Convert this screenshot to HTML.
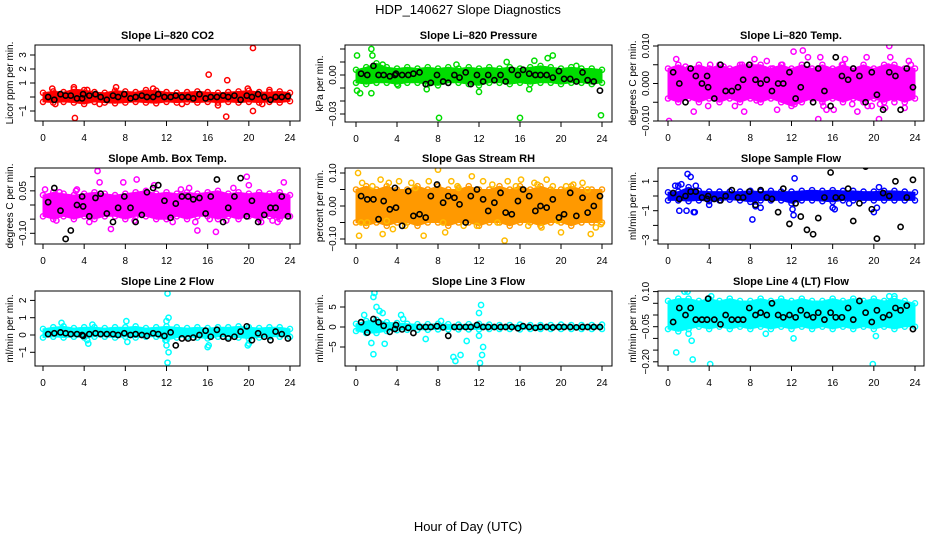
<!DOCTYPE html>
<html><head><meta charset="utf-8"><style>
html,body{margin:0;padding:0;background:#fff;width:936px;height:540px;overflow:hidden}
svg{display:block;font-family:"Liberation Sans",Arial,sans-serif}
</style></head><body>
<svg id="chart" width="936" height="540" viewBox="0 0 936 540">
<text x="468" y="14" text-anchor="middle" font-size="13">HDP_140627  Slope Diagnostics</text>
<text x="468" y="531" text-anchor="middle" font-size="13">Hour of Day (UTC)</text>
<g id="panels"></g>
</svg>
<script>
// ---- shared data ----
const bandHours = [0,1,2,3,4,5,6,7,8,9,10,11,12,13,14,15,16,17,18,19,20,21,22,23,24];
const blackX = [0.5,1.1,1.7,2.2,2.7,3.3,3.8,3.9,4.5,5.1,5.6,6.2,6.8,7.3,7.9,8.5,9.0,9.6,10.1,10.7,11.2,11.8,12.4,12.9,13.5,14.1,14.6,15.2,15.8,16.3,16.9,17.5,18.0,18.6,19.2,19.8,20.3,20.9,21.5,22.1,22.6,23.2,23.8];
const xTicks = [0,4,8,12,16,20,24];

// CO2
const co2Lo = [-0.35,-0.4,-0.35,-0.4,-0.5,-0.35,-0.4,-0.45,-0.4,-0.35,-0.4,-0.45,-0.35,-0.4,-0.35,-0.4,-0.35,-0.4,-0.35,-0.4,-0.35,-0.4,-0.35,-0.4,-0.3];
const co2Hi = [0.3,0.4,0.35,0.55,0.5,0.35,0.3,0.45,0.4,0.35,0.5,0.45,0.35,0.3,0.35,0.4,0.35,0.3,0.35,0.4,0.45,0.35,0.35,0.4,0.3];
const co2OutX = [0.9,3.1,3.0,4.3,7.1,10.7,16.1,17.9,17.8,17.0,20.4,20.4,19.9,22.0,1.2,5.5,13.5,21.3];
const co2OutY = [0.6,-1.5,0.7,0.5,0.7,0.6,1.6,1.2,-1.4,-0.6,3.5,-1.0,0.6,0.5,-0.5,-0.5,-0.5,-0.5];
const co2Black = [0,-0.2,0.2,0.1,0.1,-0.1,-0.1,0.2,0.1,0.2,0,-0.2,0.1,0,0.2,-0.1,0,0.1,0,0,0.2,0,0,0.1,0,0,-0.1,0.2,-0.1,0,0,0.1,0,0.1,-0.2,0.1,0,0.2,0,-0.2,0,0,0.05];
// Pressure
const prLo = [-0.006,-0.007,-0.006,-0.006,-0.007,-0.006,-0.006,-0.007,-0.008,-0.006,-0.006,-0.007,-0.008,-0.006,-0.006,-0.007,-0.006,-0.007,-0.006,-0.006,-0.007,-0.006,-0.006,-0.007,-0.006];
const prHi = [0.004,0.006,0.009,0.006,0.005,0.006,0.005,0.006,0.005,0.006,0.005,0.006,0.005,0.006,0.005,0.006,0.005,0.006,0.007,0.006,0.005,0.006,0.005,0.005,0.004];
const prOutX = [0.1,0.1,0.4,1.5,1.6,1.5,8.1,16.0,23.9,19.2,18.7,17.4,12.0,6.9,14.7,16.9,21.5,2.6,4.1,9.8];
const prOutY = [0.015,-0.012,-0.014,0.02,0.015,-0.014,-0.033,-0.033,-0.031,0.015,0.013,0.011,-0.013,-0.011,0.010,-0.011,0.007,0.008,-0.008,0.008];
const prBlack = [0.001,0.0,0.007,0.0,0.0,-0.001,0.0,0.001,0.0,0.0,0.001,0.002,-0.007,-0.006,0.0,-0.005,-0.006,0.0,-0.002,0.002,-0.007,0.0,-0.005,0.0,-0.004,0.0,-0.005,0.004,0.0,0.004,0.001,0.0,0.0,0.0,-0.002,0.003,-0.003,-0.003,-0.005,0.002,-0.004,-0.005,-0.012];
// Temp
const tpLo = [-0.004,-0.005,-0.004,-0.005,-0.004,-0.005,-0.004,-0.005,-0.004,-0.005,-0.004,-0.005,-0.006,-0.005,-0.004,-0.005,-0.004,-0.005,-0.004,-0.005,-0.004,-0.005,-0.004,-0.005,-0.004];
const tpHi = [0.004,0.005,0.004,0.005,0.004,0.005,0.004,0.005,0.005,0.005,0.004,0.005,0.004,0.005,0.004,0.005,0.004,0.005,0.004,0.005,0.004,0.005,0.005,0.004,0.004];
const tpOutX = [0.1,0.8,1.7,2.5,3.9,4.1,5.4,6.5,7.4,8.4,8.6,9.6,10.6,11.1,12.2,12.3,13.1,13.6,14.6,14.8,15.1,15.4,16.1,17.2,17.9,18.4,19.3,19.4,19.8,20.5,20.6,21.1,22.0,23.0,23.4,2.4,7.2,10.2,11.4,16.9,21.4,23.6,21.5,21.6];
const tpOutY = [-0.010,0.0065,0.0045,-0.0075,-0.006,0.005,0.0045,-0.006,-0.0075,0.0065,-0.0045,0.006,-0.007,0.005,0.0085,-0.0055,0.0088,0.007,-0.0095,0.007,-0.006,-0.007,-0.007,0.0065,-0.0055,-0.0075,0.007,-0.006,-0.006,-0.0095,-0.0055,-0.0065,-0.005,-0.0065,0.006,0.0035,0.005,0.004,-0.004,0.005,0.0045,0.005,0.010,0.007];
const tpBlack = [0.003,0.000,-0.005,0.004,0.002,0.000,0.002,-0.001,-0.004,0.005,-0.002,-0.002,-0.001,0.001,0.005,0.001,0.000,0.001,-0.002,0.000,0.000,0.003,-0.004,-0.001,0.005,-0.005,0.004,-0.002,-0.006,0.007,0.002,0.001,0.004,0.002,-0.005,0.003,-0.003,-0.007,0.003,0.002,-0.007,0.004,-0.001];
// Amb box temp
const abLo = [-0.04,-0.05,-0.04,-0.05,-0.04,-0.05,-0.04,-0.04,-0.05,-0.04,-0.04,-0.05,-0.05,-0.04,-0.05,-0.04,-0.04,-0.05,-0.04,-0.05,-0.04,-0.05,-0.04,-0.05,-0.04];
const abHi = [0.035,0.045,0.04,0.035,0.04,0.045,0.04,0.035,0.04,0.045,0.05,0.04,0.045,0.04,0.045,0.04,0.045,0.05,0.04,0.045,0.04,0.045,0.04,0.045,0.035];
const abOutX = [0.2,1.6,3.3,4.5,5.5,6.6,8.9,9.1,10.8,12.3,12.6,13.4,14.2,14.8,15.0,16.2,16.8,17.8,18.5,19.8,20.0,21.2,22.3,22.8,23.4,5.3,1.3,7.8,3.2];
const abOutY = [0.055,0.045,0.055,-0.06,0.08,-0.085,-0.055,0.09,0.07,-0.045,-0.06,0.055,0.06,-0.06,-0.09,-0.05,-0.095,-0.055,0.06,0.1,0.07,-0.06,-0.055,-0.06,0.08,0.12,-0.055,0.08,0.05];
const abBlack = [0.01,0.06,-0.02,-0.12,-0.09,0.0,0.03,-0.005,-0.04,0.025,0.04,-0.03,-0.06,-0.01,0.03,-0.01,-0.06,-0.035,0.045,0.06,0.07,0.015,-0.045,0.005,0.03,0.03,0.02,0.025,-0.03,0.03,0.09,-0.06,-0.01,0.03,0.095,-0.04,0.015,-0.06,-0.035,-0.01,-0.01,0.03,-0.04];
// Gas stream RH
const rhLo = [-0.05,-0.06,-0.05,-0.06,-0.05,-0.05,-0.06,-0.05,-0.05,-0.06,-0.05,-0.05,-0.06,-0.05,-0.05,-0.06,-0.05,-0.05,-0.06,-0.05,-0.05,-0.06,-0.05,-0.05,-0.05];
const rhHi = [0.05,0.06,0.05,0.06,0.05,0.05,0.06,0.05,0.06,0.05,0.05,0.06,0.05,0.05,0.06,0.05,0.06,0.05,0.06,0.05,0.05,0.06,0.05,0.05,0.05];
const rhOutX = [0.2,0.3,0.6,1.1,1.6,2.4,2.6,3.2,3.6,4.2,4.8,5.4,6.6,7.1,8.0,8.5,8.7,9.3,9.9,10.5,11.3,11.8,12.4,13.3,14.5,14.8,15.6,16.1,16.8,17.4,18.1,18.6,19.2,19.7,20.0,21.2,22.1,22.9,23.4,23.9,0.5,3.0,5.8,10.0,13.8,17.7,20.5,22.6];
const rhOutY = [0.10,-0.09,0.07,-0.05,0.06,0.08,-0.085,0.07,-0.07,0.075,-0.06,0.07,-0.09,0.075,0.11,-0.05,-0.08,0.075,0.06,-0.06,0.09,-0.06,0.075,0.065,-0.105,0.075,0.06,0.08,-0.06,0.07,-0.065,0.08,0.06,-0.045,-0.08,0.065,0.07,-0.085,-0.065,-0.055,-0.05,-0.045,0.055,0.055,-0.05,0.065,0.06,0.05];
const rhBlack = [0.03,0.02,0.02,-0.04,0.015,-0.01,0.055,-0.005,-0.06,0.045,-0.03,-0.025,-0.035,0.03,0.065,0.01,0.03,0.025,0.005,-0.05,0.03,0.05,0.02,-0.015,0.01,0.04,-0.02,-0.025,0.015,0.05,0.03,-0.015,0.0,-0.005,0.02,-0.035,-0.025,0.04,-0.03,0.025,-0.02,0.0,0.03];
// Sample flow
const sfLo = [-0.3,-0.3,-0.35,-0.3,-0.35,-0.3,-0.25,-0.3,-0.4,-0.3,-0.3,-0.3,-0.5,-0.3,-0.3,-0.35,-0.4,-0.3,-0.3,-0.3,-0.3,-0.3,-0.3,-0.3,-0.3];
const sfHi = [0.25,0.3,0.6,0.35,0.3,0.3,0.3,0.3,0.35,0.3,0.35,0.3,0.3,0.35,0.4,0.35,0.4,0.35,0.35,0.3,0.3,0.35,0.35,0.3,0.25];
const sfOutX = [0.7,1.0,1.3,1.9,2.2,2.5,1.8,2.6,1.1,4.0,8.2,8.5,9.0,12.3,12.1,12.2,16.0,16.2,20.0,20.3,20.5,17.6,2.7];
const sfOutY = [0.7,0.7,0.8,1.5,1.3,-1.1,-1.0,-1.1,-1.0,-0.6,-1.6,-0.7,-0.8,1.2,-0.9,-1.3,-0.8,-0.9,-1.1,-0.8,0.6,-0.5,0.7];
const sfBlack = [0.2,-0.2,0.0,0.3,0.3,-0.1,-0.2,0.0,-0.2,-0.3,0.0,0.4,-0.1,-0.1,0.3,-0.6,0.4,-0.1,-0.2,-1.1,0.5,-1.9,-0.5,-1.4,-2.3,-2.6,-1.5,-0.1,1.6,-0.1,-0.1,0.5,-1.7,-0.5,2.0,-0.9,-2.9,0.2,0.0,1.0,-2.1,-0.1,1.1];
// Line 2 flow
const l2Lo = [-0.15,-0.1,-0.15,-0.1,-0.15,-0.1,-0.1,-0.15,-0.1,-0.15,-0.1,-0.1,-0.3,-0.15,-0.1,-0.15,-0.2,-0.1,-0.1,-0.15,-0.2,-0.15,-0.1,-0.1,-0.1];
const l2Hi = [0.35,0.45,0.5,0.4,0.45,0.45,0.4,0.45,0.45,0.5,0.4,0.45,0.5,0.45,0.4,0.45,0.4,0.45,0.45,0.5,0.45,0.4,0.45,0.45,0.35];
const l2OutX = [12.1,12.1,12.2,12.0,12.0,11.9,12.2,4.4,4.3,8.1,8.2,16.0,16.1,19.9,20.0,1.8,4.8];
const l2OutY = [2.4,-1.6,1.0,0.8,-0.6,-0.3,-1.0,-0.5,-0.3,0.8,-0.4,-0.7,-0.6,-0.6,-0.5,0.7,0.6];
const l2Black = [0.05,0.1,0.15,0.1,0.05,0.05,0.0,-0.05,0.05,0.1,0.05,0.05,0.05,0.0,0.1,0.0,0.05,0.0,-0.05,0.1,0.05,-0.05,0.15,-0.6,-0.2,-0.2,-0.15,0.0,0.25,-0.1,0.3,-0.1,-0.2,-0.1,0.2,0.5,-0.3,0.1,-0.1,-0.3,0.2,0.05,-0.2];
// Line 3 flow
const l3Lo = [-1.0,-1.5,-1.5,-1.0,-0.8,-0.7,-0.7,-0.7,-0.6,-0.6,-0.6,-0.6,-0.6,-0.5,-0.5,-0.5,-0.6,-0.5,-0.5,-0.5,-0.5,-0.5,-0.5,-0.5,-0.5];
const l3Hi = [0.8,1.5,1.8,1.2,1.0,0.8,0.7,0.7,0.8,0.7,0.6,0.7,0.8,0.6,0.5,0.5,0.6,0.5,0.5,0.5,0.6,0.5,0.5,0.5,0.6];
const l3OutX = [1.8,1.7,2.0,2.3,1.5,1.7,2.8,4.4,6.8,9.5,9.7,10.2,10.8,12.2,12.0,12.0,12.3,12.4,12.1,0.8,2.6,4.6,8.3];
const l3OutY = [8.5,7.5,5.0,4.0,-4.0,-6.8,-4.2,3.0,-3.0,-7.5,-8.5,-7.0,-3.5,5.5,3.5,-2.2,-7.0,-5.0,-9.0,3.0,3.5,2.0,1.5];
const l3Black = [1.2,-1.4,2.0,1.2,0.3,-1.2,-0.5,0.5,-0.6,-0.2,-1.5,0.0,0.0,0.0,0.2,-0.1,-2.2,0.0,0.0,0.0,0.0,0.5,0.0,0.0,0.0,0.0,0.0,0.0,-0.3,0.2,0.0,-0.2,0.0,0.0,-0.1,0.0,0.0,0.0,-0.1,0.0,0.0,0.0,0.0];
// Line 4 flow
const l4Lo = [-0.06,-0.07,-0.06,-0.05,-0.06,-0.05,-0.06,-0.05,-0.06,-0.05,-0.06,-0.05,-0.06,-0.05,-0.06,-0.05,-0.06,-0.05,-0.06,-0.05,-0.06,-0.05,-0.06,-0.05,-0.05];
const l4Hi = [0.06,0.07,0.07,0.06,0.07,0.06,0.07,0.06,0.06,0.07,0.06,0.07,0.06,0.07,0.06,0.06,0.07,0.06,0.07,0.06,0.07,0.06,0.07,0.06,0.05];
const l4OutX = [0.8,2.4,4.1,12.0,19.9,1.6,1.9,2.3,4.2,12.2,20.2,21.5,22.0,2.0,9.5];
const l4OutY = [-0.16,-0.19,-0.21,-0.24,-0.21,0.10,0.10,-0.11,0.08,-0.10,-0.09,0.08,0.08,-0.08,-0.08];
const l4Black = [-0.03,0.03,0.0,0.03,-0.02,-0.02,-0.02,0.07,-0.02,-0.04,0.0,-0.02,-0.02,-0.02,0.03,0.0,0.01,0.0,0.05,0.0,-0.01,0.0,-0.01,0.02,0.0,-0.01,0.01,-0.02,0.01,-0.01,-0.01,0.03,-0.02,0.06,0.01,-0.03,0.02,-0.01,0.0,0.03,0.02,0.04,-0.06];

// ---- panel specs (layout) ----
const panels = [
 {name:'co2',title:'Slope Li\u2013820 CO2',ylab:'Licor ppm per min.',box:[35,45,300,121],x0:43,x24:290,zero:97,ppu:14,ticks:[-1,0,1,2,3],labels:['\u22121','','1','2','3'],color:'#ff0000',lo:co2Lo,hi:co2Hi,ox:co2OutX,oy:co2OutY,bk:co2Black},
 {name:'pressure',title:'Slope Li\u2013820 Pressure',ylab:'kPa per min.',box:[345,45,612,122],x0:356,x24:602,zero:75,ppu:1300,ticks:[-0.03,-0.02,-0.01,0,0.01,0.02],labels:['\u22120.03','','','0.00','',''],color:'#00dd00',lo:prLo,hi:prHi,ox:prOutX,oy:prOutY,bk:prBlack},
 {name:'temp',title:'Slope Li\u2013820 Temp.',ylab:'degrees C per min.',box:[658,45,924,121],x0:668,x24:915,zero:83.5,ppu:3750,ticks:[-0.01,-0.005,0,0.005,0.01],labels:['\u22120.010','','0.000','','0.010'],color:'#ff00ff',lo:tpLo,hi:tpHi,ox:tpOutX,oy:tpOutY,bk:tpBlack},
 {name:'amb-box-temp',title:'Slope Amb. Box Temp.',ylab:'degrees C per min.',box:[35,168,300,244],x0:43,x24:290,zero:205,ppu:283,ticks:[-0.1,-0.05,0,0.05,0.1],labels:['\u22120.10','','','0.05',''],color:'#ff00ff',lo:abLo,hi:abHi,ox:abOutX,oy:abOutY,bk:abBlack},
 {name:'gas-stream-rh',title:'Slope Gas Stream RH',ylab:'percent per min.',box:[345,168,612,244],x0:356,x24:602,zero:206,ppu:330,ticks:[-0.1,-0.05,0,0.05,0.1],labels:['\u22120.10','','0.00','','0.10'],color:'#ff9900',ocolor:'#ffbb00',lo:rhLo,hi:rhHi,ox:rhOutX,oy:rhOutY,bk:rhBlack},
 {name:'sample-flow',title:'Slope Sample Flow',ylab:'ml/min per min.',box:[658,168,924,244],x0:668,x24:915,zero:196,ppu:14.7,ticks:[-3,-2,-1,0,1],labels:['\u22123','','\u22121','','1'],color:'#0000ff',lo:sfLo,hi:sfHi,ox:sfOutX,oy:sfOutY,bk:sfBlack},
 {name:'line2-flow',title:'Slope Line 2 Flow',ylab:'ml/min per min.',box:[35,291,300,366],x0:43,x24:290,zero:335,ppu:17.3,ticks:[-1,0,1,2],labels:['\u22121','0','1','2'],color:'#00ffff',lo:l2Lo,hi:l2Hi,ox:l2OutX,oy:l2OutY,bk:l2Black},
 {name:'line3-flow',title:'Slope Line 3 Flow',ylab:'ml/min per min.',box:[345,291,612,366],x0:356,x24:602,zero:327,ppu:4,ticks:[-5,0,5],labels:['\u22125','0','5'],color:'#00ffff',lo:l3Lo,hi:l3Hi,ox:l3OutX,oy:l3OutY,bk:l3Black},
 {name:'line4-flow',title:'Slope Line 4 (LT) Flow',ylab:'ml/min per min.',box:[658,291,924,366],x0:668,x24:915,zero:315,ppu:234,ticks:[-0.2,-0.15,-0.1,-0.05,0,0.05,0.1],labels:['\u22120.20','','','\u22120.05','','','0.10'],color:'#00ffff',lo:l4Lo,hi:l4Hi,ox:l4OutX,oy:l4OutY,bk:l4Black}
];

const NS='http://www.w3.org/2000/svg';
function mk(tag, attrs, parent){const e=document.createElementNS(NS,tag);for(const k in attrs)e.setAttribute(k,attrs[k]);parent.appendChild(e);return e;}
const root=document.getElementById('panels');

panels.forEach(p=>{
  const sx=h=>p.x0+(h/24)*(p.x24-p.x0);
  const sy=v=>p.zero-v*p.ppu;
  const [L,T,R,B]=p.box;
  const g=mk('g',{},root);
  
  
  const cp=mk('clipPath',{id:'cp-'+p.name},g);
  mk('rect',{x:L,y:T,width:R-L,height:B-T},cp);
  const plot=mk('g',{'clip-path':'url(#cp-'+p.name+')'},g);
  let d='';
  bandHours.forEach((h,i)=>{d+=(i?'L':'M')+sx(h).toFixed(1)+','+sy(p.hi[i]).toFixed(1);});
  for(let i=bandHours.length-1;i>=0;i--){d+='L'+sx(bandHours[i]).toFixed(1)+','+sy(p.lo[i]).toFixed(1);}
  const band=mk('path',{d:d+'Z',fill:p.color,stroke:p.color,'stroke-width':1,'stroke-linejoin':'round'},plot);
  
  
  bandHours.forEach((h,i)=>{
    [p.lo[i],p.hi[i]].forEach(v=>{
      const c=mk('circle',{cx:sx(h),cy:sy(v),r:2.6,fill:'none',stroke:p.color,'stroke-width':1.4},plot);
      
      
    });
  });
  p.ox.forEach((h,i)=>{
    const c=mk('circle',{cx:sx(h),cy:sy(p.oy[i]),r:2.6,fill:'none',stroke:p.ocolor||p.color,'stroke-width':1.5},plot);
    
    
  });
  blackX.forEach((h,i)=>{
    const c=mk('circle',{cx:sx(h),cy:sy(p.bk[i]),r:2.6,fill:'none',stroke:'#000','stroke-width':1.6},plot);
    
    
  });
  const bx=mk('rect',{x:L,y:T,width:R-L,height:B-T,fill:'none',stroke:'#000','stroke-width':1},g);
  
  
  xTicks.forEach(t=>{
    const x=sx(t);
    mk('line',{x1:x,y1:B,x2:x,y2:B+5,stroke:'#000'},g);
    const tx=mk('text',{x:x,y:B+20,'text-anchor':'middle','font-size':10},g);
    tx.textContent=t;
    
    
  });
  p.ticks.forEach((t,i)=>{
    const y=sy(t);
    mk('line',{x1:L-5,y1:y,x2:L,y2:y,stroke:'#000'},g);
    if(p.labels[i]){
      const tx=mk('text',{x:0,y:0,'text-anchor':'middle','font-size':10,transform:'translate('+(L-9)+','+y+') rotate(-90)'},g);
      tx.textContent=p.labels[i];
      
      
    }
  });
  const yl=mk('text',{x:0,y:0,'text-anchor':'middle','font-size':10,transform:'translate('+(L-22)+','+((T+B)/2)+') rotate(-90)'},g);
  yl.textContent=p.ylab;
  
  
  const tt=mk('text',{x:(L+R)/2,y:T-6,'text-anchor':'middle','font-size':11,'font-weight':'bold'},g);
  tt.textContent=p.title;
  
  
});
</script>
</body></html>
